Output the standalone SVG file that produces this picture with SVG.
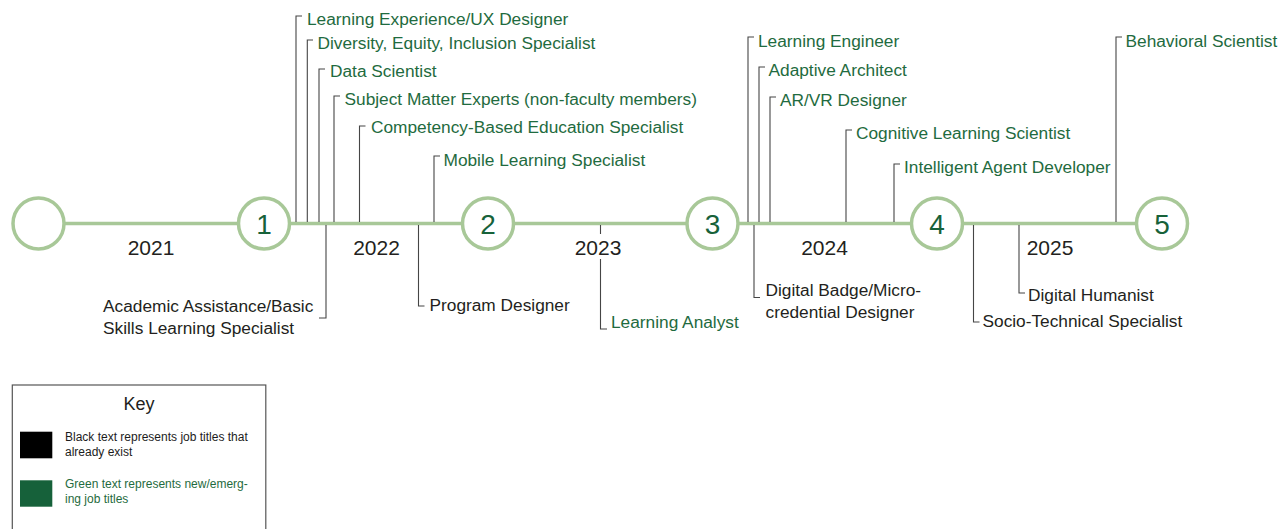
<svg xmlns="http://www.w3.org/2000/svg" width="1288" height="529" viewBox="0 0 1288 529">
<style>
text{font-family:"Liberation Sans",Arial,sans-serif}
.lbl{font-size:17.3px}
.g{fill:#1f6b40}
.k{fill:#231f20}
.yr{font-size:21px;fill:#231f20;text-anchor:middle}
.num{font-size:28px;fill:#17623a;text-anchor:middle}
.ms{fill:#ffffff;stroke:#a8c898;stroke-width:3.5}
.conn{fill:none;stroke:#454545;stroke-width:1.1}
.tl{stroke:#a8c898;stroke-width:3.5;fill:none}
.key{fill:#1c1c1c;font-size:12px}
</style>
<rect width="1288" height="529" fill="#ffffff"/>
<g id="connectors">
<line class="tl" x1="38.5" y1="223.5" x2="1162" y2="223.5"/>
<polyline class="conn" points="296,222 296,16 302,16"/>
<polyline class="conn" points="307.3,222 307.3,40 313,40"/>
<polyline class="conn" points="319,222 319,69 325,69"/>
<polyline class="conn" points="334,222 334,96 340,96"/>
<polyline class="conn" points="359.5,222 359.5,126 365.5,126"/>
<polyline class="conn" points="434,222 434,156 440,156"/>
<polyline class="conn" points="748,222 748,37 754,37"/>
<polyline class="conn" points="759,222 759,67 765,67"/>
<polyline class="conn" points="770,222 770,97 776,97"/>
<polyline class="conn" points="846,222 846,130 852,130"/>
<polyline class="conn" points="894,222 894,164 900,164"/>
<polyline class="conn" points="1116,222 1116,37 1122,37"/>
<polyline class="conn" points="326,225 326,318 319,318"/>
<polyline class="conn" points="418.5,225 418.5,306 424.5,306"/>
<line class="conn" x1="600.5" y1="225" x2="600.5" y2="234"/>
<polyline class="conn" points="600.5,259 600.5,329 607,329"/>
<polyline class="conn" points="754,225 754,297.5 760,297.5"/>
<polyline class="conn" points="973.5,225 973.5,322 979.5,322"/>
<polyline class="conn" points="1019,225 1019,293 1025,293"/>
</g>
<g id="milestone-0"><circle class="ms" cx="38.5" cy="223.5" r="25.5"/></g>
<g id="milestone-1"><circle class="ms" cx="264" cy="223.5" r="25.5"/><text class="num" x="264" y="233.5">1</text></g>
<g id="milestone-2"><circle class="ms" cx="488" cy="223.5" r="25.5"/><text class="num" x="488" y="233.5">2</text></g>
<g id="milestone-3"><circle class="ms" cx="712.5" cy="223.5" r="25.5"/><text class="num" x="712.5" y="233.5">3</text></g>
<g id="milestone-4"><circle class="ms" cx="937" cy="223.5" r="25.5"/><text class="num" x="937" y="233.5">4</text></g>
<g id="milestone-5"><circle class="ms" cx="1162" cy="223.5" r="25.5"/><text class="num" x="1162" y="233.5">5</text></g>
<g id="years">
<text class="yr" x="151" y="255">2021</text>
<text class="yr" x="376.5" y="255">2022</text>
<text class="yr" x="598" y="255">2023</text>
<text class="yr" x="824.5" y="255">2024</text>
<text class="yr" x="1050" y="255">2025</text>
</g>
<g id="ux-designer"><text class="lbl g" x="307" y="25">Learning Experience/UX Designer</text></g>
<g id="dei-specialist"><text class="lbl g" x="317.5" y="48.5">Diversity, Equity, Inclusion Specialist</text></g>
<g id="data-scientist"><text class="lbl g" x="330" y="76.5">Data Scientist</text></g>
<g id="sme"><text class="lbl g" x="344.5" y="104.5">Subject Matter Experts (non-faculty members)</text></g>
<g id="cbe-specialist"><text class="lbl g" x="371" y="133">Competency-Based Education Specialist</text></g>
<g id="mobile-learning"><text class="lbl g" x="443.5" y="165.5">Mobile Learning Specialist</text></g>
<g id="learning-engineer"><text class="lbl g" x="758" y="46.5">Learning Engineer</text></g>
<g id="adaptive-architect"><text class="lbl g" x="768.5" y="76">Adaptive Architect</text></g>
<g id="arvr-designer"><text class="lbl g" x="780" y="106">AR/VR Designer</text></g>
<g id="cognitive-scientist"><text class="lbl g" x="856" y="139">Cognitive Learning Scientist</text></g>
<g id="intelligent-agent"><text class="lbl g" x="904" y="173">Intelligent Agent Developer</text></g>
<g id="behavioral-scientist"><text class="lbl g" x="1125.5" y="46.5">Behavioral Scientist</text></g>
<g id="academic-assistance"><text class="lbl k" x="103" y="311.5">Academic Assistance/Basic</text><text class="lbl k" x="103" y="334">Skills Learning Specialist</text></g>
<g id="program-designer"><text class="lbl k" x="429.5" y="311">Program Designer</text></g>
<g id="learning-analyst"><text class="lbl g" x="611" y="327.5">Learning Analyst</text></g>
<g id="digital-badge"><text class="lbl k" x="765.5" y="295.5">Digital Badge/Micro-</text><text class="lbl k" x="765.5" y="318">credential Designer</text></g>
<g id="socio-technical"><text class="lbl k" x="982.5" y="327">Socio-Technical Specialist</text></g>
<g id="digital-humanist"><text class="lbl k" x="1028" y="300.5">Digital Humanist</text></g>
<g id="key">
<rect x="12.3" y="385" width="253.5" height="160" fill="none" stroke="#555555" stroke-width="1.2"/>
<text x="139" y="410" font-size="18" fill="#231f20" text-anchor="middle">Key</text>
<rect x="20" y="431.7" width="32.3" height="26.6" fill="#000000"/>
<text class="key" x="65" y="441">Black text represents job titles that</text>
<text class="key" x="65" y="456">already exist</text>
<rect x="20" y="480.3" width="32.3" height="26.4" fill="#16613a"/>
<text class="key" x="65" y="488.3" fill="#1f6b40" style="fill:#1f6b40">Green text represents new/emerg-</text>
<text class="key" x="65" y="503.3" style="fill:#1f6b40">ing job titles</text>
</g>
</svg>
